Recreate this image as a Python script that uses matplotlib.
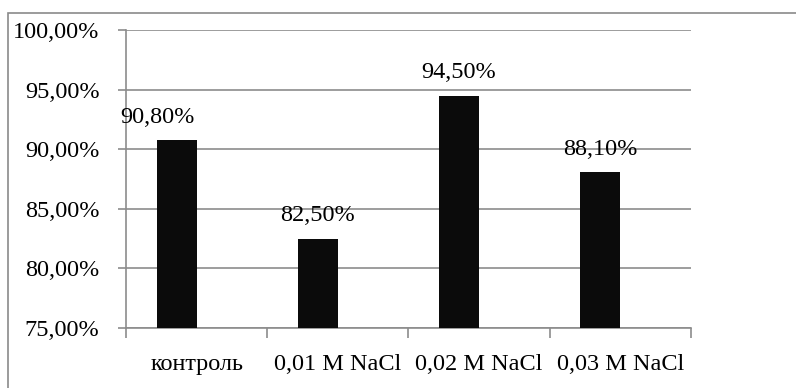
import matplotlib.pyplot as plt
from matplotlib.patches import Rectangle
from matplotlib.ticker import FuncFormatter

categories = ['контроль', '0,01 M NaCl', '0,02 M NaCl', '0,03 M NaCl']
values = [90.80, 82.50, 94.50, 88.10]
value_labels = ['90,80%', '82,50%', '94,50%', '88,10%']

plt.rcParams['font.family'] = ['Liberation Serif', 'DejaVu Serif']
plt.rcParams['font.size'] = 17.5

fig = plt.figure(figsize=(7.96, 3.88), dpi=100)
ax = fig.add_axes([0.1583, 0.1546, 0.7097, 0.7681])

# рамка вокруг всей диаграммы
fig.patches.append(Rectangle((8 / 796, -0.1), 1.2, 1 - 13 / 388 + 0.1,
                             transform=fig.transFigure, fill=False,
                             edgecolor='#8a8a8a', linewidth=1.2))

bar_w = 0.284
pos = [i - bar_w / 2 for i in range(len(categories))]
ax.bar(pos, values, width=bar_w, color='#0b0b0b', zorder=3)

# подписи значений над столбиками
for i, (x, v, lab) in enumerate(zip(pos, values, value_labels)):
    dx = -0.135 if i == 0 else 0
    ax.text(x + dx, v + 1.9, lab, ha='center', va='center')

ax.set_ylim(75, 100)
ax.set_xlim(-0.5, len(categories) - 0.5)
ax.set_yticks([75, 80, 85, 90, 95, 100])
ax.yaxis.set_major_formatter(FuncFormatter(lambda v, p: f'{v:.2f}%'.replace('.', ',')))
ax.grid(axis='y', color='#8c8c8c', linewidth=1.2, zorder=0)

ax.set_xticks([i - 0.5 for i in range(len(categories) + 1)])
ax.set_xticklabels([])
ax.set_xticks(range(len(categories)), minor=True)
ax.set_xticklabels(categories, minor=True)
ax.tick_params(axis='x', which='major', length=7, width=1.2, color='#8c8c8c', direction='out')
ax.tick_params(axis='x', which='minor', length=0, pad=19)
ax.tick_params(axis='y', length=6, width=1.2, color='#8c8c8c', pad=13)

for s in ['top', 'right']:
    ax.spines[s].set_visible(False)
for s in ['left', 'bottom']:
    ax.spines[s].set_color('#8c8c8c')
    ax.spines[s].set_linewidth(1.2)

fig.savefig('out.png', dpi=100)
